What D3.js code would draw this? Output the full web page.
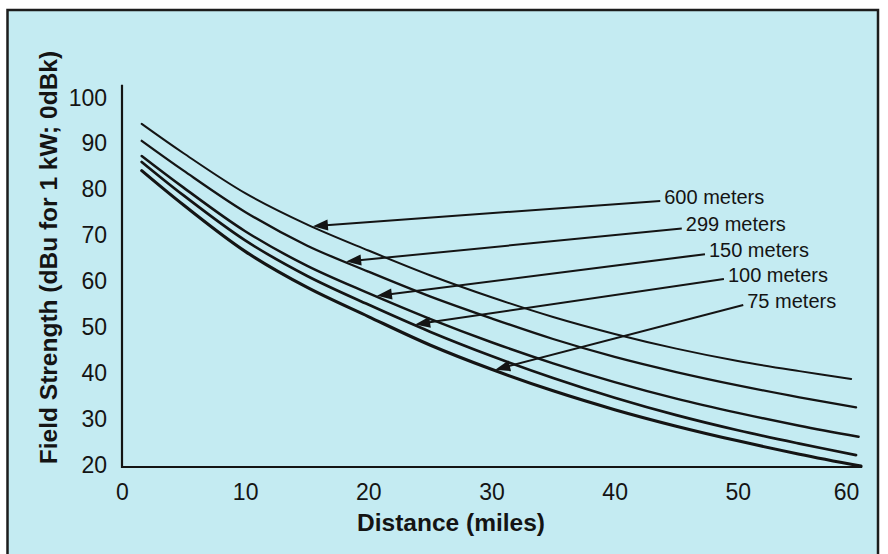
<!DOCTYPE html>
<html><head><meta charset="utf-8">
<script src="https://cdn.jsdelivr.net/npm/d3@7"></script>
<style>html,body{margin:0;padding:0;background:#fff;} svg{display:block;}</style>
</head><body>
<svg id="chart" width="888" height="554"></svg>
<script>
// ---- data ----
const seriesNames = ["600 meters", "299 meters", "150 meters", "100 meters", "75 meters"];
const distances = [1.6, 5, 10, 15, 20, 25, 30, 35, 40, 45, 50, 55];
const endDistance = [59.2, 59.6, 59.8, 59.6, 60.0];
const fs600 = [94.8, 88.4, 79.7, 72.9, 67.2, 61.8, 57.0, 52.7, 49.0, 45.8, 43.1, 40.9, 39.2];
const fs299 = [91.1, 84.6, 75.6, 68.3, 62.6, 57.2, 52.4, 47.9, 44.0, 40.7, 37.8, 35.2, 33.0];
const fs150 = [87.8, 80.9, 71.4, 63.9, 57.9, 52.3, 47.2, 42.6, 38.5, 34.9, 31.8, 29.0, 26.6];
const fs100 = [86.5, 79.2, 69.4, 61.7, 55.4, 49.5, 44.2, 39.4, 35.1, 31.3, 28.0, 25.1, 22.6];
const fs75  = [84.6, 77.1, 67.0, 59.2, 52.8, 46.6, 41.3, 36.6, 32.5, 28.9, 25.7, 22.8, 20.2];
const xTicks = [0, 10, 20, 30, 40, 50, 60];
const yTicks = [20, 30, 40, 50, 60, 70, 80, 90, 100];
// annotation: where each arrow starts (label end, in data units) and the distance its tip touches the curve
const labelMiles = [43.7, 45.45, 47.33, 48.87, 50.44];
const labelDb    = [78.0, 72.0, 66.4, 61.0, 55.3];
const tipMiles   = [15.5, 18.2, 20.7, 23.8, 30.3];

const allValues = [fs600, fs299, fs150, fs100, fs75];
const strokeW = [2.0, 2.3, 2.5, 2.7, 3.1];

const svg = d3.select("#chart");
const W = 888, H = 554;
svg.append("rect").attr("width", W).attr("height", H).attr("fill", "#fff");
svg.append("rect").attr("x", 7.5).attr("y", 10).attr("width", 870.5).attr("height", 570)
  .attr("fill", "#c4ebf2").attr("stroke", "#1c1c1c").attr("stroke-width", 2.5);

const x = d3.scaleLinear().domain([0, 60]).range([122, 861]);
const y = d3.scaleLinear().domain([20, 100]).range([467, 100]);
const ink = "#141414";
const fontFam = "'Liberation Sans', Arial, Helvetica, sans-serif";

// axes
const gx = svg.append("g").attr("transform", `translate(0,${y(20)})`)
  .call(d3.axisBottom(x).tickValues(xTicks).tickSize(0).tickPadding(17).tickFormat(d3.format("d")));
gx.select(".domain").remove();
gx.selectAll("text").attr("font-size", 23).attr("font-family", fontFam).attr("fill", ink)
  .attr("dx", d => d === 60 ? -15 : 0);

const gy = svg.append("g").attr("transform", `translate(${x(0)},0)`)
  .call(d3.axisLeft(y).tickValues(yTicks).tickSize(0).tickPadding(15).tickFormat(d3.format("d")));
gy.select(".domain").remove();
gy.selectAll("text").attr("font-size", 23).attr("font-family", fontFam).attr("fill", ink).attr("dy", "0.22em");

// axis lines
svg.append("line").attr("x1", x(0)).attr("x2", x(0)).attr("y1", y(20) + 1).attr("y2", y(103.3))
  .attr("stroke", ink).attr("stroke-width", 2.2);
svg.append("line").attr("x1", x(0) - 1).attr("x2", x(60.1)).attr("y1", y(20)).attr("y2", y(20))
  .attr("stroke", ink).attr("stroke-width", 2.2);

// titles
svg.append("text").attr("x", 451).attr("y", 531).attr("text-anchor", "middle")
  .attr("font-family", fontFam).attr("font-weight", "bold").attr("font-size", 24.5).attr("fill", ink)
  .text("Distance (miles)");
svg.append("text").attr("transform", "translate(57,257.5) rotate(-90)").attr("text-anchor", "middle")
  .attr("font-family", fontFam).attr("font-weight", "bold").attr("font-size", 24.5).attr("fill", ink)
  .text("Field Strength (dBu for 1 kW; 0dBk)");

// curves
const line = d3.line().x(d => x(d[0])).y(d => y(d[1])).curve(d3.curveCatmullRom.alpha(0.5));
const paths = allValues.map((vals, i) => {
  const dists = distances.concat([endDistance[i]]);
  const pts = vals.map((v, j) => [dists[j], v]);
  return svg.append("path").datum(pts).attr("d", line).attr("fill", "none")
    .attr("stroke", ink).attr("stroke-width", strokeW[i]).attr("stroke-linecap", "round");
});

function yOnPath(node, px) {
  let lo = 0, hi = node.getTotalLength();
  for (let k = 0; k < 40; k++) {
    const mid = (lo + hi) / 2;
    if (node.getPointAtLength(mid).x < px) lo = mid; else hi = mid;
  }
  return node.getPointAtLength((lo + hi) / 2).y;
}

// annotations
seriesNames.forEach((name, i) => {
  const lx = x(labelMiles[i]), ly = y(labelDb[i]);
  const tx = x(tipMiles[i]);
  const ty = yOnPath(paths[i].node(), tx) - 1;
  const dx = lx - tx, dy = ly - ty, len = Math.hypot(dx, dy);
  const ux = dx / len, uy = dy / len;
  const hl = 15, hw = 5.5;
  const bx = tx + ux * hl, by = ty + uy * hl;
  svg.append("line").attr("x1", lx).attr("y1", ly).attr("x2", bx - ux * 2).attr("y2", by - uy * 2)
    .attr("stroke", ink).attr("stroke-width", 2);
  svg.append("path").attr("d", `M${tx},${ty}L${bx - uy * hw},${by + ux * hw}L${bx + uy * hw},${by - ux * hw}Z`)
    .attr("fill", ink);
  svg.append("text").attr("x", lx + 4).attr("y", ly + 3)
    .attr("font-family", fontFam).attr("font-size", 20).attr("fill", ink).text(name);
});
</script>
</body></html>
